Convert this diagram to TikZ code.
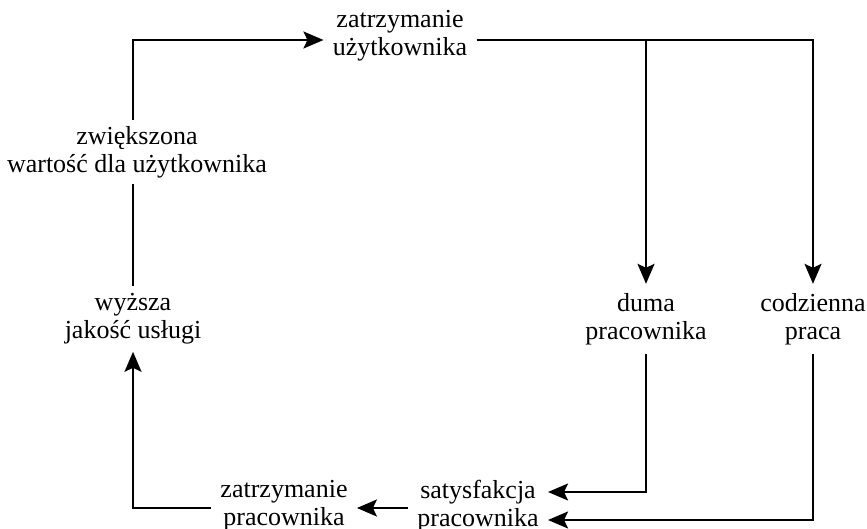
\documentclass[tikz,border=0pt]{standalone}
\usepackage{fontspec}
\setmainfont{Liberation Serif}
\usetikzlibrary{arrows.meta,calc}
\begin{document}
\begin{tikzpicture}[x=0.5pt,y=-0.5pt,
  lbl/.style={align=center,inner xsep=4.5pt,inner ysep=4.5pt,font=\fontsize{13}{14}\selectfont,text=black},
  conn/.style={line width=1pt,draw=black},
  arr/.style={conn,-{Stealth[length=10pt,width=8.5pt,inset=2pt]}}]
\useasboundingbox (0,0) rectangle (867,529);
\node[lbl] (T) at (400,36) {zatrzymanie\\użytkownika};
\node[lbl,inner ysep=3pt] (Z) at (137,152) {zwiększona\\wartość dla użytkownika};
\node[lbl,inner ysep=3.5pt] (W) at (133,319) {wyższa\\jakość usługi};
\node[lbl] (D) at (646,319) {duma\\pracownika};
\node[lbl] (C) at (813,319) {codzienna\\praca};
\node[lbl] (S) at (478,506) {satysfakcja\\pracownika};
\node[lbl] (P) at (284,506) {zatrzymanie\\pracownika};
% helper coordinates
\coordinate (tw) at ($(T.west)+(0,4)$);
\coordinate (te) at ($(T.east)+(0,4)$);
\coordinate (s1) at ($(S.east)+(0,-14)$);
\coordinate (s2) at ($(S.east)+(0,14)$);
\coordinate (sw) at ($(S.west)+(0,2)$);
\coordinate (pe) at ($(P.east)+(0,2)$);
\coordinate (pw) at ($(P.west)+(0,2)$);
% connectors
\draw[arr] (pw) -| (W.south);
\draw[conn] (W.north) -- (W.north |- Z.south);
\draw[arr] (W.north |- Z.north) |- (tw);
\draw[arr] (te) -| (C.north);
\draw[arr] (D.north |- te) -- (D.north);
\draw[arr] (D.south) |- (s1);
\draw[arr] (C.south) |- (s2);
\draw[arr] (sw) -- (pe);
\end{tikzpicture}
\end{document}
